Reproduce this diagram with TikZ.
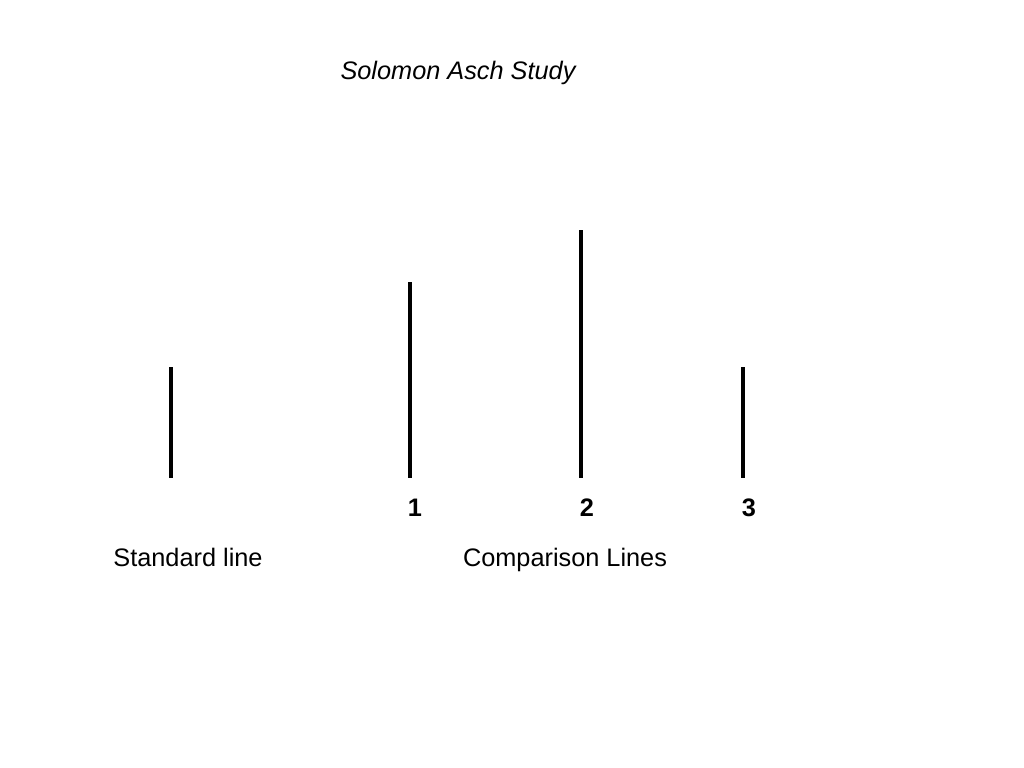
\documentclass[tikz,border=0pt]{standalone}
\usepackage{fontspec}
\setmainfont{Liberation Sans}
\begin{document}
\begin{tikzpicture}[x=0.025cm,y=-0.025cm,
  bar/.style={line width=3.5pt,black},
  lbl/.style={font=\fontsize{18}{20}\selectfont,inner sep=0pt,anchor=base},
  num/.style={font=\fontsize{18}{20}\selectfont\bfseries,inner sep=0pt,anchor=base}]
\useasboundingbox (0,0) rectangle (1024,768);
\node[lbl,font=\fontsize{18}{20}\selectfont\itshape] (title) at (458,80) {Solomon Asch Study};
\coordinate (s0) at (171,367); \coordinate (s1) at (171,478);
\coordinate (a0) at (410,282); \coordinate (a1) at (410,478);
\coordinate (b0) at (581,230); \coordinate (b1) at (581,478);
\coordinate (c0) at (743,367); \coordinate (c1) at (743,478);
\draw[bar] (s0) -- (s1);
\draw[bar] (a0) -- (a1);
\draw[bar] (b0) -- (b1);
\draw[bar] (c0) -- (c1);
\node[num] (n1) at (415,516) {1};
\node[num] (n2) at (587,516) {2};
\node[num] (n3) at (749,516) {3};
\node[lbl] (std) at (188,566) {Standard line};
\node[lbl] (cmp) at (565,566) {Comparison Lines};
\end{tikzpicture}
\end{document}
